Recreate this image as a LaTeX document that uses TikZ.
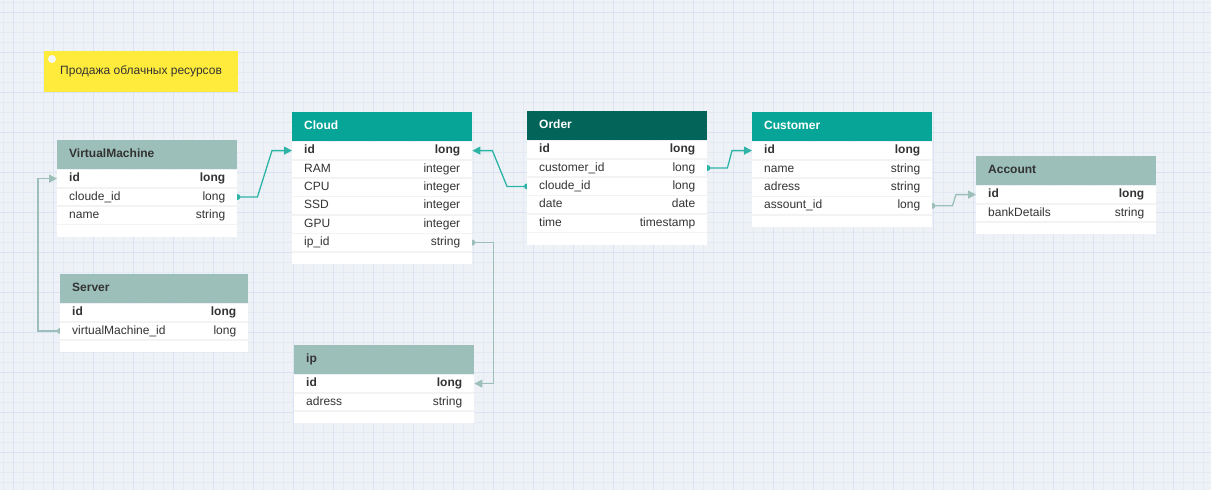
\documentclass[tikz,border=0pt]{standalone}
\usepackage{fontspec}
\setmainfont{Liberation Sans}
\usepackage{tikz}
\usetikzlibrary{arrows.meta,positioning}
\usepackage{xcolor}

\definecolor{canvas}{HTML}{EEF2F7}
\definecolor{gridminor}{HTML}{E4EAF3}
\definecolor{gridmajor}{HTML}{DAE3F1}
\definecolor{tealhead}{HTML}{07A597}
\definecolor{orderhead}{HTML}{03655A}
\definecolor{grayhead}{HTML}{9DBFBA}
\definecolor{linkteal}{HTML}{2DB4A6}
\definecolor{sticky}{HTML}{FFEB3B}
\definecolor{rowline}{HTML}{F3F3F3}
\definecolor{ink}{HTML}{333333}

\pgfdeclarelayer{canvas}
\pgfdeclarelayer{edges}
\pgfsetlayers{canvas,edges,main}

\begin{document}
\begin{tikzpicture}[
    x=1pt, y=-1pt,
    font=\fontsize{12}{14}\selectfont,
    head/.style={anchor=north west, text width=156pt, inner xsep=12pt, inner ysep=0pt, minimum height=29pt, text height=9pt, text depth=3pt, font=\fontsize{12}{14}\selectfont\bfseries},
    ghead/.style={head, fill=grayhead, text=ink},
    thead/.style={head, fill=tealhead, text=white},
    row/.style={fill=white, text width=156pt, inner xsep=12pt, inner ysep=0pt, minimum height=18pt, text height=9pt, text depth=3pt, text=ink},
    foot/.style={fill=white, minimum width=180pt, minimum height=12pt, inner sep=0pt},
    wide/.style={text width=164pt, minimum width=188pt},
    note/.style={anchor=north west, fill=sticky, minimum width=191pt, minimum height=41pt, inner xsep=16pt, text=ink},
    sep/.style={rowline, line width=1.5pt},
    link/.style={linkteal, line width=1.3pt, -{Triangle[length=8pt, width=8pt]}},
    glink/.style={link, grayhead},
]
\useasboundingbox (0,0) rectangle (1211,490);

% Canvas grid
\begin{pgfonlayer}{canvas}
\fill[canvas] (0,0) rectangle (1211,490);
\foreach \x in {3,13,...,1211} \draw[gridminor, line width=0.7pt] (\x,0) -- (\x,490);
\foreach \y in {2,12,...,490} \draw[gridminor, line width=0.7pt] (0,\y) -- (1211,\y);
\foreach \x in {13,53,...,1211} \draw[gridmajor, line width=0.7pt] (\x,0) -- (\x,490);
\foreach \y in {12,52,...,490} \draw[gridmajor, line width=0.7pt] (0,\y) -- (1211,\y);
\end{pgfonlayer}

% Note
\node[note] (note) at (44,51) {Продажа облачных ресурсов};
\fill[white!93!gray] ([shift={(8,8)}]note.north west) circle (4);

% VirtualMachine
\node[ghead] (vm) at (57,140) {VirtualMachine};
\node[row, below=0pt of vm] (vm-id) {\textbf{id}\hfill\textbf{long}};
\node[row, below=0pt of vm-id] (vm-cloude) {cloude\_id\hfill long};
\node[row, below=0pt of vm-cloude] (vm-name) {name\hfill string};
\node[foot, below=0pt of vm-name] (vm-end) {};

% Server
\node[ghead, wide] (srv) at (60,274) {Server};
\node[row, wide, below=0pt of srv] (srv-id) {\textbf{id}\hfill\textbf{long}};
\node[row, wide, below=0pt of srv-id] (srv-vm) {virtualMachine\_id\hfill long};
\node[foot, wide, below=0pt of srv-vm] (srv-end) {};

% Cloud
\node[thead] (cloud) at (292,112) {Cloud};
\node[row, below=0pt of cloud] (cloud-id) {\textbf{id}\hfill\textbf{long}};
\node[row, below=0pt of cloud-id] (cloud-ram) {RAM\hfill integer};
\node[row, below=0pt of cloud-ram] (cloud-cpu) {CPU\hfill integer};
\node[row, below=0pt of cloud-cpu] (cloud-ssd) {SSD\hfill integer};
\node[row, below=0pt of cloud-ssd] (cloud-gpu) {GPU\hfill integer};
\node[row, below=0pt of cloud-gpu] (cloud-ip) {ip\_id\hfill string};
\node[foot, below=0pt of cloud-ip] (cloud-end) {};

% ip
\node[ghead] (ip) at (294,345) {ip};
\node[row, below=0pt of ip] (ip-id) {\textbf{id}\hfill\textbf{long}};
\node[row, below=0pt of ip-id] (ip-adr) {adress\hfill string};
\node[foot, below=0pt of ip-adr] (ip-end) {};

% Order
\node[head, fill=orderhead, text=white] (order) at (527,111) {Order};
\node[row, below=0pt of order] (order-id) {\textbf{id}\hfill\textbf{long}};
\node[row, below=0pt of order-id] (order-cust) {customer\_id\hfill long};
\node[row, below=0pt of order-cust] (order-cloude) {cloude\_id\hfill long};
\node[row, below=0pt of order-cloude] (order-date) {date\hfill date};
\node[row, below=0pt of order-date] (order-time) {time\hfill timestamp};
\node[foot, below=0pt of order-time] (order-end) {};

% Customer
\node[thead] (cust) at (752,112) {Customer};
\node[row, below=0pt of cust] (cust-id) {\textbf{id}\hfill\textbf{long}};
\node[row, below=0pt of cust-id] (cust-name) {name\hfill string};
\node[row, below=0pt of cust-name] (cust-adr) {adress\hfill string};
\node[row, below=0pt of cust-adr] (cust-acct) {assount\_id\hfill long};
\node[foot, below=0pt of cust-acct] (cust-end) {};

% Account
\node[ghead] (acct) at (976,156) {Account};
\node[row, below=0pt of acct] (acct-id) {\textbf{id}\hfill\textbf{long}};
\node[row, below=0pt of acct-id] (acct-bank) {bankDetails\hfill string};
\node[foot, below=0pt of acct-bank] (acct-end) {};

% Row separators
\foreach \r in {vm-id,vm-cloude,vm-name,srv-id,srv-vm,cloud-id,cloud-ram,cloud-cpu,cloud-ssd,cloud-gpu,cloud-ip,ip-id,ip-adr,order-id,order-cust,order-cloude,order-date,order-time,cust-id,cust-name,cust-adr,cust-acct,acct-id,acct-bank}
    \draw[sep] (\r.south west) -- (\r.south east);

% Relations
\begin{pgfonlayer}{edges}
\draw[link] (vm-cloude.east) -- ++(20,0) -- ([xshift=-20pt]cloud-id.west) -- (cloud-id.west);
\fill[linkteal] (vm-cloude.east) circle (3);
\draw[link] (order-cloude.west) -- ++(-20,0) -- ([xshift=20pt]cloud-id.east) -- (cloud-id.east);
\fill[linkteal] (order-cloude.west) circle (3);
\draw[link] (order-cust.east) -- ++(20,0) -- ([xshift=-20pt]cust-id.west) -- (cust-id.west);
\fill[linkteal] (order-cust.east) circle (3);
\draw[glink] (cust-acct.east) -- ++(20,0) -- ([xshift=-20pt]acct-id.west) -- (acct-id.west);
\fill[grayhead] (cust-acct.east) circle (3);
\draw[glink] (srv-vm.west) -- ++(-22,0) |- (vm-id.west);
\fill[grayhead] (srv-vm.west) circle (3);
\draw[glink] (cloud-ip.east) -- ++(21,0) |- (ip-id.east);
\fill[grayhead] (cloud-ip.east) circle (3);
\end{pgfonlayer}
\end{tikzpicture}
\end{document}
